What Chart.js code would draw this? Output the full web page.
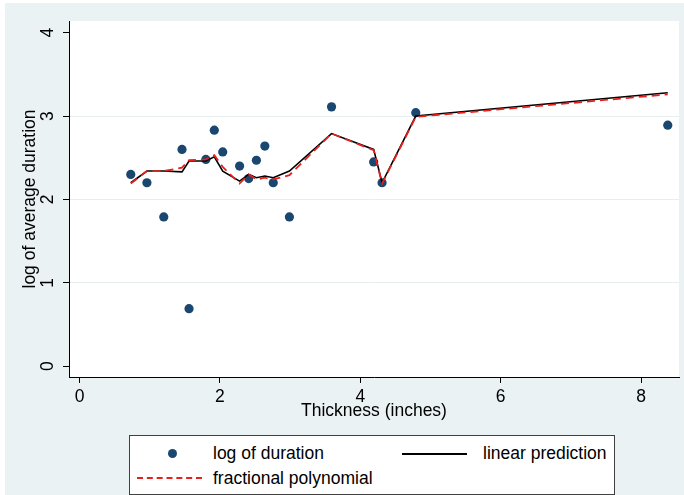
<!DOCTYPE html>
<html>
<head>
<meta charset="utf-8">
<script src="https://cdn.jsdelivr.net/npm/chart.js@4"></script>
<style>
  html, body { margin:0; padding:0; background:#fff; }
  #wrap { position:absolute; left:5px; top:3px; width:679px; height:492px; background:#eaf2f3; }
  #box  { position:absolute; left:0; top:0; width:684px; height:495px; }
  .legend { position:absolute; left:129px; top:435px; width:484px; height:58px;
            border:1px solid #404040; background:#fff; font-family:"Liberation Sans", Arial, sans-serif;
            font-size:17.5px; color:#000; }
  .legend span { position:absolute; line-height:18px; white-space:nowrap; }
  .dot  { position:absolute; width:9px; height:9px; border-radius:50%; background:#1a476f; }
  .ln   { position:absolute; height:0; border-top:2px solid #000; }
  .dash { position:absolute; height:0; border-top:2px dashed #e8201c; }
</style>
</head>
<body>
<div id="wrap"></div>
<div id="box"><canvas id="chart" width="684" height="495"></canvas></div>
<div class="legend">
  <div class="dot" style="left:38px; top:13px;"></div>
  <span style="left:83px; top:8px;">log of duration</span>
  <div class="ln" style="left:272px; top:17px; width:65px;"></div>
  <span style="left:353px; top:8px;">linear prediction</span>
  <div class="dash" style="left:7px; top:41px; width:65px;"></div>
  <span style="left:83px; top:33px;">fractional polynomial</span>
</div>
<script>
// data
const thickness   = [0.73, 0.96, 1.20, 1.46, 1.56, 1.80, 1.92, 2.04, 2.28, 2.41, 2.52, 2.64, 2.76, 2.99, 3.59, 4.19, 4.31, 4.79, 8.38];
const logDuration = [2.30, 2.20, 1.79, 2.60, 0.69, 2.48, 2.83, 2.57, 2.40, 2.25, 2.47, 2.64, 2.20, 1.79, 3.11, 2.45, 2.20, 3.04, 2.89];
const linearPred  = [2.20, 2.34, 2.34, 2.33, 2.46, 2.46, 2.51, 2.34, 2.22, 2.30, 2.26, 2.28, 2.26, 2.34, 2.79, 2.60, 2.20, 3.00, 3.28];
const fracPoly    = [2.19, 2.34, 2.34, 2.38, 2.47, 2.48, 2.53, 2.39, 2.19, 2.30, 2.24, 2.26, 2.24, 2.29, 2.79, 2.59, 2.19, 2.99, 3.26];
const xTicks = [0, 2, 4, 6, 8];
const yTicks = [0, 1, 2, 3, 4];

const FONT = { family: '"Liberation Sans", Arial, sans-serif', size: 17.5 };
const pts = ys => thickness.map((x, i) => ({ x: x, y: ys[i] }));

// white plot region behind the marks
const plotBg = {
  id: 'plotBg',
  beforeDraw(chart) {
    const { ctx, chartArea: a } = chart;
    ctx.save();
    ctx.fillStyle = '#fff';
    ctx.fillRect(a.left, a.top, a.right - a.left, a.bottom - a.top);
    ctx.restore();
  }
};

new Chart(document.getElementById('chart'), {
  type: 'scatter',
  data: {
    datasets: [
      {
        label: 'fractional polynomial',
        data: pts(fracPoly),
        showLine: true,
        borderColor: '#e8201c',
        borderDash: [8, 5],
        borderWidth: 1.8,
        pointRadius: 0,
        tension: 0,
        order: 0
      },
      {
        label: 'linear prediction',
        data: pts(linearPred),
        showLine: true,
        borderColor: '#000',
        borderWidth: 1.6,
        pointRadius: 0,
        tension: 0,
        order: 1
      },
      {
        label: 'log of duration',
        data: pts(logDuration),
        showLine: false,
        pointRadius: 4.6,
        pointBackgroundColor: '#1a476f',
        pointBorderWidth: 0,
        order: 2
      }
    ]
  },
  plugins: [plotBg],
  options: {
    responsive: false,
    animation: false,
    layout: { padding: { left: 0, top: 21, right: 5, bottom: 73 } },
    plugins: { legend: { display: false }, tooltip: { enabled: false } },
    scales: {
      x: {
        type: 'linear',
        min: -0.15, max: 8.54,
        afterBuildTicks: s => { s.ticks = xTicks.map(v => ({ value: v })); },
        afterFit: s => { s.height = 45; },
        border: { color: '#000', width: 1 },
        grid: { drawOnChartArea: false, drawTicks: true, tickLength: 6, tickColor: '#000' },
        ticks: { color: '#000', font: FONT, padding: 4, maxRotation: 0 },
        title: { display: true, text: 'Thickness (inches)', color: '#000', font: FONT, padding: { top: 0, bottom: 0 } }
      },
      y: {
        type: 'linear',
        min: -0.13, max: 4.14,
        afterBuildTicks: s => { s.ticks = yTicks.map(v => ({ value: v })); },
        afterFit: s => { s.width = 69; },
        border: { color: '#000', width: 1 },
        grid: {
          drawTicks: true, tickLength: 6, tickColor: '#000',
          color: c => (c.tick && c.tick.value > 0 && c.tick.value < 4) ? '#e6eef0' : 'rgba(0,0,0,0)'
        },
        ticks: { color: '#000', font: FONT, padding: 10, minRotation: 90, maxRotation: 90, crossAlign: 'center' },
        title: { display: true, text: 'log of average duration', color: '#000', font: FONT, padding: { top: 19.5, bottom: 0 } }
      }
    }
  }
});
</script>
</body>
</html>
